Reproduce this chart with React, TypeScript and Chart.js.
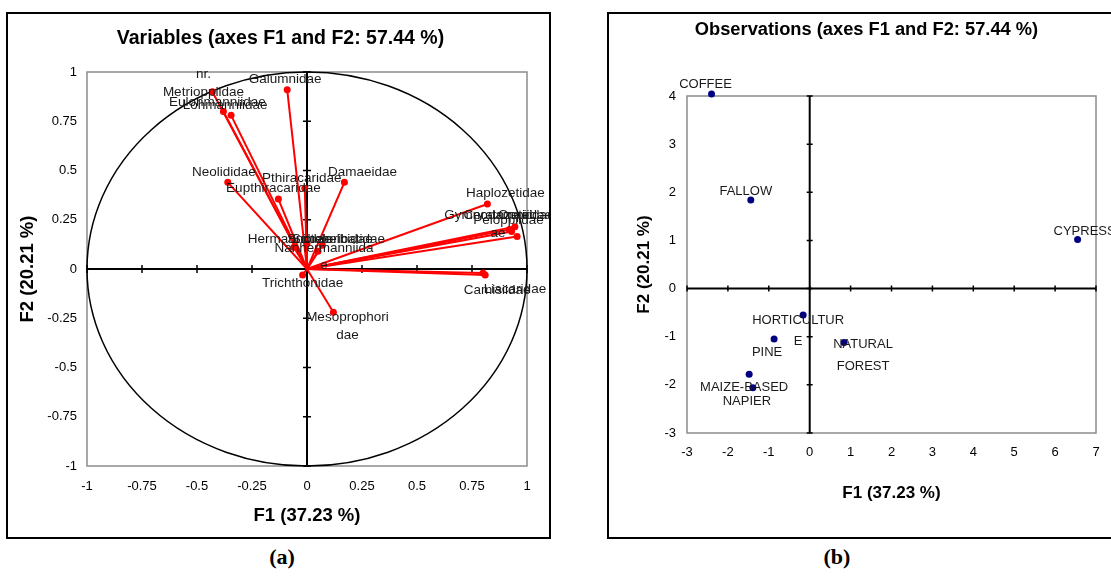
import React, { useEffect, useRef } from 'react';
import { Chart, registerables } from 'chart.js';

Chart.register(...registerables);

const FONT = "'Liberation Sans', Arial, Helvetica, sans-serif";
Chart.defaults.font.family = FONT;
Chart.defaults.color = '#000';

// ---------- Panel (a): variables (correlation circle) ----------
const varNames = [
  'Galumnidae', 'Metrioppiidae', 'Eulohmanniidae', 'Lohmanniidae', 'Neolididae',
  'Pthiracaridae', 'Damaeidae', 'Eupthiracaridae', 'Hermanniidae', 'Suctobelbidae',
  'Scheloribatidae', 'Nanhermanniidae', 'Trichthonidae', 'Mesoprophoridae', 'Haplozetidae',
  'Gymnodamaeidae', 'Oppiidae', 'Peloppiidae', 'Ceratozetidae', 'Camisiidae', 'Liacaridae',
];
const varF1 = [-0.09, -0.43, -0.38, -0.345, -0.36, -0.01, 0.17, -0.13, -0.06, 0.0, 0.07, 0.05, -0.02, 0.12, 0.82, 0.92, 0.945, 0.93, 0.955, 0.81, 0.80];
const varF2 = [0.91, 0.9, 0.8, 0.78, 0.44, 0.41, 0.44, 0.355, 0.11, 0.13, 0.12, 0.09, -0.03, -0.22, 0.33, 0.2, 0.215, 0.19, 0.165, -0.03, -0.02];
// displayed label text (as wrapped in the original)
const varLabels = [
  'Galumnidae', 'nr.\nMetrioppiidae', 'Eulohmanniidae', 'Lohmanniidae', 'Neolididae',
  'Pthiracaridae', 'Damaeidae', 'Eupthiracaridae', 'Hermanniidae', 'Suctobelbidae',
  'Scheloribatidae', 'Nanhermanniida\ne', 'Trichthonidae', 'Mesoprophori\ndae', 'Haplozetidae',
  'Gymnodamaeidae', 'Oppiidae', 'Peloppiidae', 'Ceratozetid\nae', 'Camisiidae', 'Liacaridae',
];
// label placement offsets (px) relative to each point
const varLabelDx = [-2, -9, -6, -6, -4, -3, 18, -5, -4, 23, 16, 6, 0, 14, 18, -10, 10, -3, -19, 12, 32];
const varLabelDy = [-10, -17, -9, -10, -10, -10, -10, -11, -8, -4, -6, -3, 8, 5, -11, -14, -11, -11, -21, 15, 16];

const axisTicksA = [-1, -0.75, -0.5, -0.25, 0, 0.25, 0.5, 0.75, 1];
const axisTickLabelsA = ['-1', '-0.75', '-0.5', '-0.25', '0', '0.25', '0.5', '0.75', '1'];
const titleA = 'Variables (axes F1 and F2: 57.44 %)';

// ---------- Panel (b): observations ----------
const obsNames = ['COFFEE', 'FALLOW', 'CYPRESS', 'HORTICULTURE', 'PINE', 'NATURAL FOREST', 'MAIZE-BASED', 'NAPIER'];
const obsF1 = [-2.4, -1.44, 6.55, -0.16, -0.87, 0.84, -1.48, -1.39];
const obsF2 = [4.04, 1.84, 1.02, -0.55, -1.05, -1.12, -1.78, -2.06];
const obsLabels = ['COFFEE', 'FALLOW', 'CYPRESS', 'HORTICULTUR\nE', 'PINE', 'NATURAL\nFOREST', 'MAIZE-BASED', 'NAPIER'];
const obsLabelDx = [-6, -5, 7, -5, -7, 19, -5, -6];
const obsLabelDy = [-10, -9, -8, 5, 13, 2, 13, 14];

const xTicksB = [-3, -2, -1, 0, 1, 2, 3, 4, 5, 6, 7];
const xTickLabelsB = ['-3', '-2', '-1', '0', '1', '2', '3', '4', '5', '6', '7'];
const yTicksB = [-3, -2, -1, 0, 1, 2, 3, 4];
const yTickLabelsB = ['-3', '-2', '-1', '0', '1', '2', '3', '4'];
const titleB = 'Observations (axes F1 and F2: 57.44 %)';

function titlePlugin(text: string, cx: number, cy: number, size: number) {
  return {
    id: 'panelTitle',
    afterDraw(chart: any) {
      const { ctx } = chart;
      ctx.save();
      ctx.font = `bold ${size}px ${FONT}`;
      ctx.fillStyle = '#000';
      ctx.textAlign = 'center';
      ctx.textBaseline = 'middle';
      ctx.fillText(text, cx, cy);
      ctx.restore();
    },
  };
}

function framePlugin(withCircle: boolean, tickHalf: number) {
  return {
    id: 'frameAxes',
    beforeDatasetsDraw(chart: any) {
      const { ctx, chartArea: a } = chart;
      const x = chart.scales.x;
      const y = chart.scales.y;
      ctx.save();
      ctx.strokeStyle = '#8c8c8c';
      ctx.lineWidth = 1.5;
      ctx.strokeRect(a.left, a.top, a.right - a.left, a.bottom - a.top);
      const x0 = x.getPixelForValue(0);
      const y0 = y.getPixelForValue(0);
      if (withCircle) {
        const rx = x.getPixelForValue(1) - x0;
        const ry = y0 - y.getPixelForValue(1);
        ctx.beginPath();
        ctx.ellipse(x0, y0, rx, ry, 0, 0, Math.PI * 2);
        ctx.strokeStyle = '#000';
        ctx.lineWidth = 1.5;
        ctx.stroke();
      }
      ctx.strokeStyle = '#000';
      ctx.lineWidth = 2;
      ctx.beginPath();
      ctx.moveTo(a.left, y0);
      ctx.lineTo(a.right, y0);
      ctx.moveTo(x0, a.top);
      ctx.lineTo(x0, a.bottom);
      ctx.stroke();
      ctx.lineWidth = 1.5;
      ctx.beginPath();
      x.ticks.forEach((t: any) => {
        const px = x.getPixelForValue(t.value);
        ctx.moveTo(px, y0 - tickHalf);
        ctx.lineTo(px, y0 + tickHalf);
      });
      y.ticks.forEach((t: any) => {
        const py = y.getPixelForValue(t.value);
        ctx.moveTo(x0 - tickHalf, py);
        ctx.lineTo(x0 + tickHalf, py);
      });
      ctx.stroke();
      ctx.restore();
    },
  };
}

function labelPlugin(xs: number[], ys: number[], texts: string[], dx: number[], dy: number[], font: string, lineH: number) {
  return {
    id: 'pointLabels',
    afterDatasetsDraw(chart: any) {
      const { ctx } = chart;
      ctx.save();
      ctx.font = font;
      ctx.fillStyle = '#1a1a1a';
      ctx.textAlign = 'center';
      ctx.textBaseline = 'middle';
      texts.forEach((t, i) => {
        const px = chart.scales.x.getPixelForValue(xs[i]) + dx[i];
        const py = chart.scales.y.getPixelForValue(ys[i]) + dy[i];
        t.split('\n').forEach((line, j) => ctx.fillText(line, px, py + j * lineH));
      });
      ctx.restore();
    },
  };
}

function VariablesChart() {
  const ref = useRef<HTMLCanvasElement>(null);
  useEffect(() => {
    const chart = new Chart(ref.current as HTMLCanvasElement, {
      type: 'scatter',
      data: {
        datasets: varNames.map((name, i) => ({
          label: name,
          data: [{ x: 0, y: 0 }, { x: varF1[i], y: varF2[i] }],
          showLine: true,
          borderColor: '#ff0000',
          backgroundColor: '#ff0000',
          borderWidth: 2,
          pointRadius: [0, 3.5],
          pointBorderWidth: 0,
          clip: false,
        })),
      } as any,
      options: {
        responsive: false,
        animation: false,
        events: [],
        layout: { padding: { left: 0, right: 22, top: 58, bottom: 0 } },
        plugins: {
          legend: { display: false },
          tooltip: { enabled: false },
          title: { display: false },
        },
        scales: {
          x: {
            type: 'linear',
            min: -1,
            max: 1,
            afterBuildTicks: (s: any) => { s.ticks = axisTicksA.map((v) => ({ value: v })); },
            afterFit: (s: any) => { s.height = 71; },
            grid: { display: false, drawTicks: false },
            border: { display: false },
            ticks: { padding: 13, color: '#000', font: { size: 13 }, maxRotation: 0, autoSkip: false, callback: (_v: any, i: number) => axisTickLabelsA[i] },
            title: { display: true, text: 'F1 (37.23 %)', color: '#000', font: { size: 18.5, weight: 'bold' }, padding: { top: 0, bottom: 10 } },
          },
          y: {
            type: 'linear',
            min: -1,
            max: 1,
            afterBuildTicks: (s: any) => { s.ticks = axisTicksA.map((v) => ({ value: v })); },
            afterFit: (s: any) => { s.width = 79; },
            grid: { display: false, drawTicks: false },
            border: { display: false },
            ticks: { padding: 10, color: '#000', font: { size: 13 }, autoSkip: false, callback: (_v: any, i: number) => axisTickLabelsA[i] },
            title: { display: true, text: 'F2 (20.21 %)', color: '#000', font: { size: 18.5, weight: 'bold' }, padding: { top: 9, bottom: 0 } },
          },
        },
      } as any,
      plugins: [
        framePlugin(true, 4),
        labelPlugin(varF1, varF2, varLabels, varLabelDx, varLabelDy, `13.5px ${FONT}`, 17.5),
        titlePlugin(titleA, 272.5, 25, 19.5),
      ],
    });
    return () => chart.destroy();
  }, []);
  return <canvas ref={ref} width={541} height={523} style={{ position: 'absolute', left: 8, top: 14, width: 541, height: 523 }} />;
}

function ObservationsChart() {
  const ref = useRef<HTMLCanvasElement>(null);
  useEffect(() => {
    const chart = new Chart(ref.current as HTMLCanvasElement, {
      type: 'scatter',
      data: {
        datasets: [{
          label: 'Observations',
          data: obsNames.map((_n, i) => ({ x: obsF1[i], y: obsF2[i] })),
          backgroundColor: '#000080',
          borderColor: '#000080',
          pointRadius: 3.5,
          pointBorderWidth: 0,
          clip: false,
        }],
      } as any,
      options: {
        responsive: false,
        animation: false,
        events: [],
        layout: { padding: { left: 0, right: 28, top: 82, bottom: 0 } },
        plugins: {
          legend: { display: false },
          tooltip: { enabled: false },
          title: { display: false },
        },
        scales: {
          x: {
            type: 'linear',
            min: -3,
            max: 7,
            afterBuildTicks: (s: any) => { s.ticks = xTicksB.map((v) => ({ value: v })); },
            afterFit: (s: any) => { s.height = 104; },
            grid: { display: false, drawTicks: false },
            border: { display: false },
            ticks: { padding: 12, color: '#000', font: { size: 13 }, maxRotation: 0, autoSkip: false, callback: (_v: any, i: number) => xTickLabelsB[i] },
            title: { display: true, text: 'F1 (37.23 %)', color: '#000', font: { size: 17, weight: 'bold' }, padding: { top: 0, bottom: 33 } },
          },
          y: {
            type: 'linear',
            min: -3,
            max: 4,
            afterBuildTicks: (s: any) => { s.ticks = yTicksB.map((v) => ({ value: v })); },
            afterFit: (s: any) => { s.width = 78; },
            grid: { display: false, drawTicks: false },
            border: { display: false },
            ticks: { padding: 11, color: '#000', font: { size: 13 }, autoSkip: false, callback: (_v: any, i: number) => yTickLabelsB[i] },
            title: { display: true, text: 'F2 (20.21 %)', color: '#000', font: { size: 17, weight: 'bold' }, padding: { top: 25, bottom: 0 } },
          },
        },
      } as any,
      plugins: [
        framePlugin(false, 3),
        labelPlugin(obsF1, obsF2, obsLabels, obsLabelDx, obsLabelDy, `13px ${FONT}`, 21.5),
        titlePlugin(titleB, 257.5, 16, 18.3),
      ],
    });
    return () => chart.destroy();
  }, []);
  return <canvas ref={ref} width={515} height={523} style={{ position: 'absolute', left: 609, top: 14, width: 515, height: 523 }} />;
}

const captionStyle: React.CSSProperties = {
  position: 'absolute',
  top: 545,
  width: 100,
  height: 24,
  lineHeight: '24px',
  textAlign: 'center',
  fontFamily: "'Liberation Serif', 'Times New Roman', serif",
  fontWeight: 'bold',
  fontSize: 22,
  color: '#000',
};

export default function App() {
  return (
    <div style={{ position: 'absolute', left: 0, top: 0, width: 1111, height: 576, overflow: 'hidden', background: '#fff' }}>
      <div style={{ position: 'absolute', left: 6, top: 12, width: 545, height: 527, border: '2px solid #000', boxSizing: 'border-box' }} />
      <div style={{ position: 'absolute', left: 607, top: 12, width: 530, height: 527, border: '2px solid #000', boxSizing: 'border-box' }} />
      <VariablesChart />
      <ObservationsChart />
      <div style={{ ...captionStyle, left: 232 }}>(a)</div>
      <div style={{ ...captionStyle, left: 787 }}>(b)</div>
    </div>
  );
}
